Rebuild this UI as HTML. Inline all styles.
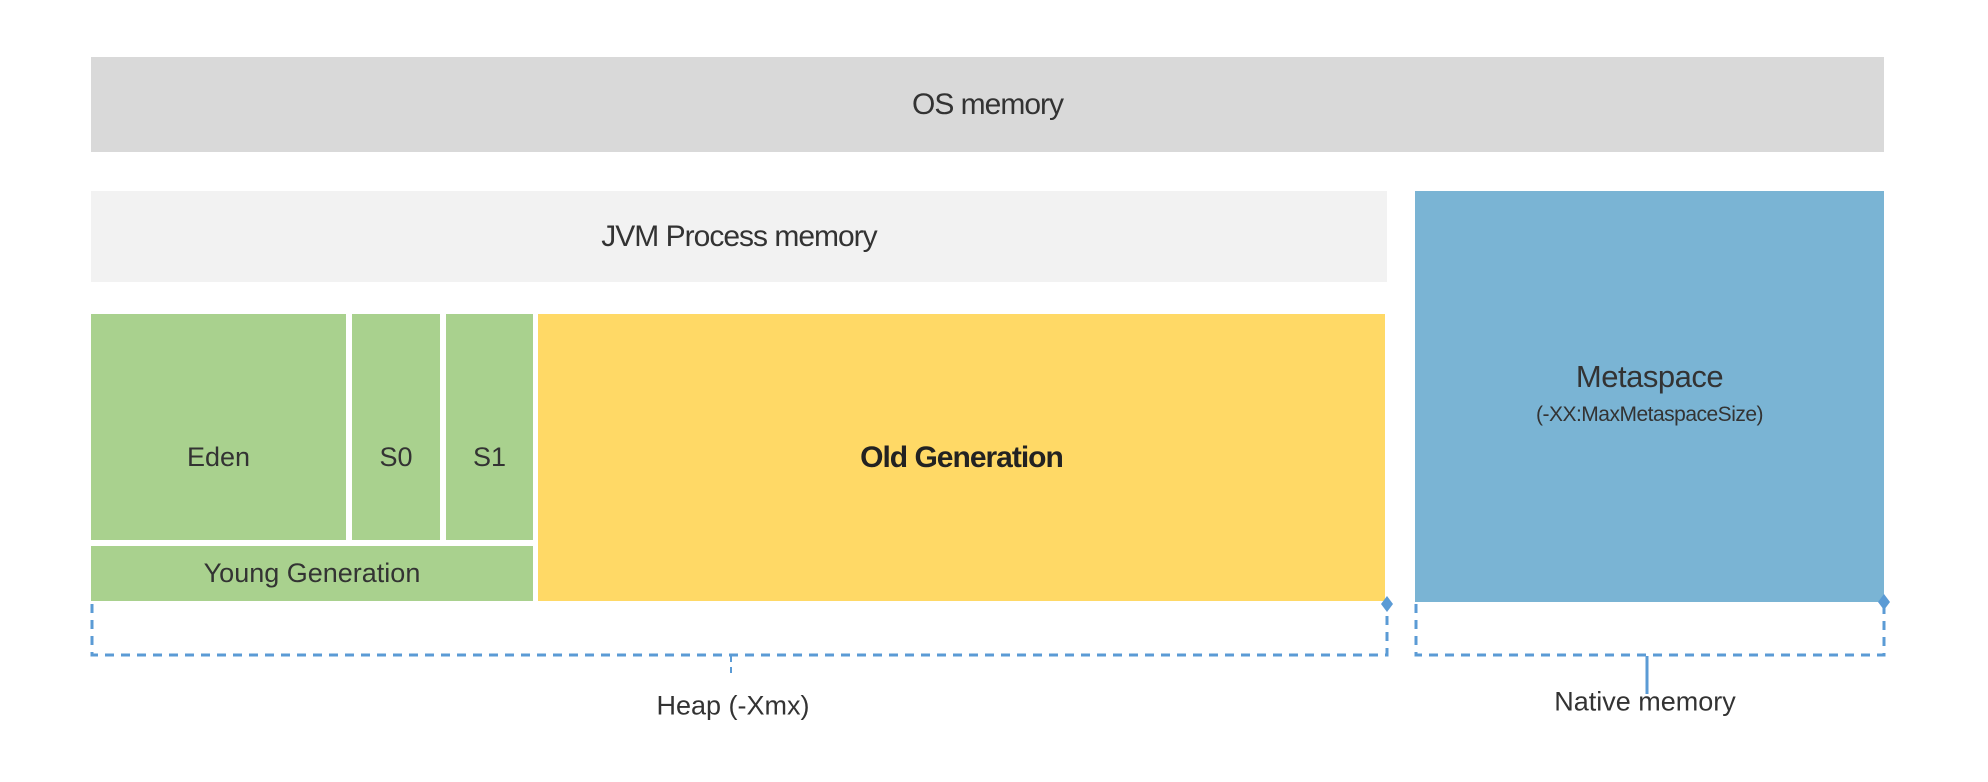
<!DOCTYPE html>
<html><head><style>
body{margin:0;width:1988px;height:782px;background:#fff;position:relative;overflow:hidden;font-family:"Liberation Sans",sans-serif;color:#333}
.b{position:absolute;display:flex;align-items:center;justify-content:center;text-align:center;box-sizing:border-box}
.t{position:absolute;transform:translate(-50%,-50%);white-space:nowrap}
</style></head><body>
<div class="b" style="left:91px;top:57px;width:1793px;height:95px;background:#d9d9d9;font-size:30px;letter-spacing:-1px">OS memory</div>
<div class="b" style="left:91px;top:191px;width:1296px;height:91px;background:#f2f2f2;font-size:30px;letter-spacing:-1px">JVM Process memory</div>
<div class="b" style="left:1415px;top:191px;width:469px;height:411px;background:#7ab4d4;flex-direction:column;justify-content:flex-start;padding-top:168px">
<div style="font-size:31px;letter-spacing:-0.5px">Metaspace</div>
<div style="font-size:21px;margin-top:8px;letter-spacing:-0.5px">(-XX:MaxMetaspaceSize)</div></div>
<div class="b" style="left:91px;top:314px;width:255px;height:226px;background:#a9d18e;font-size:27px;padding-top:60px">Eden</div>
<div class="b" style="left:352px;top:314px;width:88px;height:226px;background:#a9d18e;font-size:27px;padding-top:60px">S0</div>
<div class="b" style="left:446px;top:314px;width:87px;height:226px;background:#a9d18e;font-size:27px;padding-top:60px">S1</div>
<div class="b" style="left:91px;top:546px;width:442px;height:55px;background:#a9d18e;font-size:27px">Young Generation</div>
<div class="b" style="left:538px;top:314px;width:847px;height:287px;background:#ffd966;font-size:30px;font-weight:bold;color:#222;letter-spacing:-1px">Old Generation</div>
<svg width="1988" height="782" style="position:absolute;left:0;top:0">
<g stroke="#5b9bd5" stroke-width="3" fill="none" stroke-dasharray="9,7">
<path d="M92 604 V655 H1387 V604"/>
<path d="M1416 604 V655 H1884 V604"/>
</g>
<line x1="731" y1="656" x2="731" y2="676" stroke="#5b9bd5" stroke-width="2" stroke-dasharray="6,5"/>
<line x1="1647" y1="656" x2="1647" y2="694" stroke="#5b9bd5" stroke-width="3"/>
<path d="M1387 596 l6 8 l-6 8 l-6 -8z" fill="#5b9bd5"/>
<path d="M1884 594 l6 8 l-6 8 l-6 -8z" fill="#5b9bd5"/>
</svg>
<div class="t" style="left:733px;top:706px;font-size:27px">Heap (-Xmx)</div>
<div class="t" style="left:1645px;top:702px;font-size:27px">Native memory</div>
</body></html>
